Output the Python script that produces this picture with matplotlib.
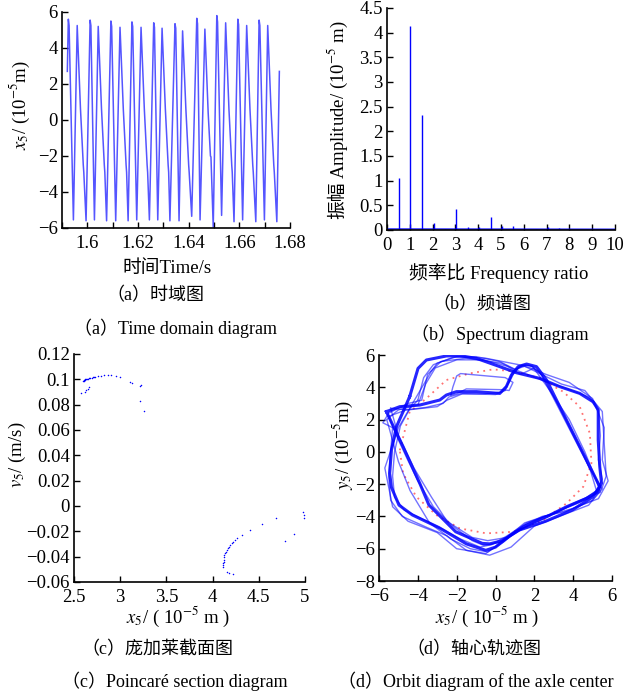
import matplotlib
matplotlib.use("Agg")
import matplotlib.pyplot as plt
from matplotlib.ticker import FuncFormatter

plt.rcParams['font.family'] = ['Liberation Serif', 'Noto Sans CJK SC']
plt.rcParams['mathtext.fontset'] = 'stix'
plt.rcParams['font.size'] = 13.5
plt.rcParams['xtick.direction'] = 'in'
plt.rcParams['ytick.direction'] = 'in'
plt.rcParams['axes.linewidth'] = 1.2
plt.rcParams['lines.solid_joinstyle'] = 'round'

# (a) time domain, vertices
time_s = [1.5921, 1.5925, 1.5928, 1.5945, 1.5960, 1.5973, 1.5984, 1.5986, 1.5995,
          1.6011, 1.6014, 1.6028, 1.6043, 1.6056, 1.6067, 1.6069, 1.6076,
          1.6093, 1.6096, 1.6112, 1.6129, 1.6142, 1.6153, 1.6155, 1.6161,
          1.6176, 1.6179, 1.6195, 1.6212, 1.6225, 1.6236, 1.6238, 1.6245,
          1.6262, 1.6265, 1.6278, 1.6295, 1.6308, 1.6319, 1.6321, 1.6326,
          1.6346, 1.6349, 1.6362, 1.6376, 1.6389, 1.6400, 1.6402, 1.6412,
          1.6432, 1.6435, 1.6445, 1.6464, 1.6477, 1.6486, 1.6488, 1.6497,
          1.6511, 1.6514, 1.6530, 1.6546, 1.6559, 1.6570, 1.6572, 1.6579,
          1.6594, 1.6597, 1.6613, 1.6629, 1.6642, 1.6653, 1.6655, 1.6665,
          1.6678, 1.6681, 1.6699, 1.6712, 1.6725, 1.6736, 1.6738, 1.6748,
          1.6758]
x5_time = [2.7, 5.6, 5.25, -5.55, 5.25, 0.6, -2.5, -2.9, -5.6,
           5.55, 5.25, -5.55, 5.2, 0.6, -2.5, -2.9, -5.6,
           5.5, 5.2, -5.6, 5.15, 0.6, -2.5, -2.9, -5.6,
           5.45, 5.2, -5.55, 5.15, 0.6, -2.5, -2.9, -5.55,
           5.4, 5.15, -5.55, 5.1, 0.6, -2.5, -2.9, -5.6,
           5.35, 5.1, -5.6, 4.95, 0.6, -2.5, -2.9, -5.35,
           5.65, 5.35, -5.55, 5.05, 0.4, -2.0, -2.05, -5.95,
           5.8, 5.45, -5.3, 5.4, 0.6, -2.5, -2.9, -5.65,
           5.6, 5.3, -5.55, 5.25, 0.6, -2.5, -2.9, -5.65,
           5.55, 5.25, -5.55, 5.25, 0.6, -2.5, -2.9, -5.65,
           2.7]

# (b) spectrum
freq_ratio = [0.52, 1.02, 1.54, 2.04, 2.54, 3.04, 3.54, 4.04, 4.54, 5.05,
              5.54, 6.04, 6.54, 7.04, 7.54, 8.03, 9.02]
amplitude = [1.06, 4.13, 2.33, 0.15, 0.03, 0.43, 0.07, 0.07, 0.27, 0.09,
             0.08, 0.03, 0.03, 0.07, 0.05, 0.03, 0.02]
base_freq = [0, 10]
base_amp = [0.02, 0.015]

# (c) Poincare section
pc_x_up = [2.576, 2.60, 2.605, 2.61, 2.615, 2.623, 2.63, 2.64, 2.649, 2.66, 2.674,
           2.69, 2.703, 2.72, 2.732, 2.761, 2.793, 2.830, 2.866, 2.902, 2.957,
           2.993, 3.101, 3.130, 3.210, 3.228, 3.214, 3.254, 2.630, 2.649, 2.659, 2.62]
pc_v_up = [0.0890, 0.0990, 0.0985, 0.0995, 0.0992, 0.1000, 0.1002, 0.1004, 0.1005,
           0.1008, 0.1011, 0.1014, 0.1016, 0.1019, 0.1021, 0.1026, 0.1029, 0.1032,
           0.1032, 0.1032, 0.1026, 0.1021, 0.0982, 0.0969, 0.0947, 0.0953, 0.0832,
           0.0753, 0.0916, 0.0921, 0.0937, 0.0903]
pc_x_lo = [4.116, 4.116, 4.117, 4.118, 4.12, 4.123, 4.127, 4.134, 4.142, 4.152,
           4.165, 4.178, 4.19, 4.207, 4.225, 4.243, 4.261, 4.315, 4.406, 4.533,
           4.685, 4.783, 4.884, 4.978, 4.986, 4.986, 4.152, 4.178, 4.225]
pc_v_lo = [-0.0478, -0.0465, -0.0452, -0.0439, -0.0425, -0.0400, -0.0385, -0.0373,
           -0.036, -0.0347, -0.0333, -0.0320, -0.0307, -0.0294, -0.0281, -0.0268,
           -0.0255, -0.0229, -0.0189, -0.0142, -0.0097, -0.0273, -0.0223, -0.0050,
           -0.0070, -0.0097, -0.0518, -0.0526, -0.0539]

# (d) orbit of the axle centre, several traced loops
loop1_x = [-4.42, -3.99, -3.56, -2.53, -1.84, -0.98, 0.22, 1.08, 2.28, 3.31, 4.34, 5.03,
           5.29, 5.29, 5.37, 5.46, 5.24, 4.69, 3.66, 2.63, 1.59, 0.74, 0.0, -0.5, -1.5,
           -2.9, -4.28, -4.97, -5.36, -5.45, -5.36, -5.10, -4.42]
loop1_y = [3.42, 5.17, 5.69, 5.94, 5.96, 5.79, 5.28, 4.90, 4.55, 4.04, 3.62, 3.10,
           2.60, 0.73, -0.92, -1.95, -2.47, -2.88, -3.40, -4.02, -4.54, -5.2, -5.9,
           -6.1, -5.7, -4.7, -3.91, -3.3, -2.2, -1.33, 0.11, 1.56, 3.42]
loop2_x = [-5.62, -4.93, -3.90, -2.87, -2.53, -2.01, -0.98, 0.22, 0.56, 0.82, 1.17,
           1.60, 2.11, 2.63, 3.31, 4.17, 5.03, 5.37, 5.0, 3.96, 2.58, 1.21, 0.35,
           -0.3, -0.68, -2.05, -3.43, -3.90, -4.76, -5.62]
loop2_y = [2.49, 2.80, 2.90, 3.21, 3.52, 3.73, 3.73, 3.62, 4.04, 4.76, 5.28, 5.44,
           5.28, 4.45, 2.80, 0.73, -1.33, -2.16, -2.8, -3.6, -4.3, -4.85, -5.5,
           -5.7, -5.67, -4.95, -3.29, -1.95, 0.32, 2.49]
loop3_x = [-5.3, -5.8, -5.5, -4.5, -3.8, -3.5, -2.8, -1.5, 0.3, 1.0, 1.5, 2.2, 3.4,
           4.6, 5.5, 5.6, 5.7, 5.5, 4.8, 3.5, 2.0, 0.8, -0.3, -1.5, -2.5, -3.5,
           -4.8, -5.4, -5.5, -5.3]
loop3_y = [1.5, 1.8, 2.4, 3.0, 3.2, 4.8, 5.6, 5.8, 5.5, 5.1, 5.3, 4.9, 4.2, 3.8,
           2.5, 0.5, -1.5, -2.2, -3.3, -3.9, -4.6, -5.9, -6.4, -6.1, -5.2, -4.7,
           -4.0, -3.0, -1.5, 1.5]
loop4_x = [-5.4, -4.5, -3.0, -2.5, -1.7, 0.0, 0.5, 0.9, 1.4, 1.9, 2.8, 3.8, 4.6,
           5.2, 5.4, 4.2, 3.0, 1.5, 0.6, -0.4, -1.2, -2.5, -3.3, -4.2, -5.0, -5.4]
loop4_y = [2.7, 2.6, 2.8, 3.2, 3.6, 3.55, 3.8, 5.0, 5.4, 5.3, 3.8, 2.0, 0.0, -1.8,
           -2.5, -3.2, -3.8, -4.4, -5.3, -5.5, -5.3, -4.3, -2.8, -1.0, 1.0, 2.7]
loop5_x = [-3.3, -3.0, -2.0, -0.5, 1.2, 1.8, 2.6, 3.8, 5.0, 5.6, 5.5, 5.8, 5.3, 4.0,
           2.5, 1.0, -0.5, -2.0, -3.0, -4.5, -5.3, -5.7, -5.0, -3.3]
loop5_y = [5.0, 5.5, 5.9, 5.8, 5.4, 5.2, 4.8, 4.3, 3.3, 1.5, -0.5, -1.8, -2.9, -3.5,
           -4.0, -5.0, -6.3, -6.0, -5.0, -4.3, -3.4, -1.0, 1.5, 5.0]
loop6_x = [-2.3, -2.2, -2.0, -1.8, 0.5, 0.9, 0.7, 0.4, -1.5, -2.0, -2.3]
loop6_y = [3.5, 4.0, 4.7, 4.85, 4.6, 4.3, 3.8, 3.85, 3.9, 3.6, 3.5]
loop7_x = [-5.5, -4.6, -3.6, -2.7, -2.4, -1.8, -0.5, 0.3, 0.7, 1.0, 1.4, 1.8, 2.3,
           2.9, 3.6, 4.4, 4.9, 5.2, 4.6, 3.4, 2.2, 1.0, 0.2, -0.6, -1.2, -2.2, -3.2,
           -4.0, -4.6, -5.1, -5.5]
loop7_y = [2.2, 2.6, 2.75, 3.0, 3.4, 3.6, 3.6, 3.7, 4.3, 5.0, 5.35, 5.35, 4.9,
           3.6, 2.1, 0.2, -1.2, -2.4, -2.9, -3.6, -4.3, -5.0, -5.6, -5.8, -5.5,
           -4.6, -3.4, -1.8, -0.3, 1.0, 2.2]
loop8_x = [-4.0, -3.7, -3.2, -2.2, -1.0, 0.2, 1.2, 2.5, 3.7, 4.8, 5.3, 5.4, 5.3,
           5.5, 5.1, 4.0, 2.8, 1.6, 0.6, -0.2, -0.8, -1.8, -2.7, -3.7, -4.7, -5.2,
           -5.3, -5.2, -4.9, -4.4, -4.0]
loop8_y = [3.2, 4.6, 5.4, 5.85, 5.9, 5.6, 5.0, 4.4, 3.9, 3.4, 2.6, 1.0, -0.5,
           -1.7, -2.6, -3.2, -3.9, -4.4, -5.2, -5.75, -5.9, -5.4, -4.8, -4.2, -3.6,
           -2.8, -1.5, 0.0, 1.6, 2.7, 3.2]
loop9_x = [-5.6, -5.0, -4.0, -3.6, -3.1, -2.0, -0.6, 0.6, 1.3, 2.0, 2.4, 3.0, 3.9,
           4.8, 5.5, 5.0, 3.6, 2.4, 1.4, 0.4, -0.4, -1.3, -2.3, -3.4, -4.4, -5.0, -5.6]
loop9_y = [2.0, 2.6, 2.9, 4.2, 5.2, 5.7, 5.7, 5.3, 4.8, 5.2, 4.7, 3.3, 1.2, -0.9,
           -2.3, -3.0, -3.7, -4.0, -4.6, -5.6, -6.2, -6.0, -5.4, -4.4, -2.4, -0.6, 2.0]
ref_x = [-4.93, -4.42, -3.56, -2.53, -1.33, -0.12, 1.08, 2.28, 3.48, 4.34, 4.86,
         4.94, 4.52, 3.66, 2.45, 0.91, -0.47, -1.84, -3.04, -4.08, -4.76, -4.93]
ref_y = [0.10, 2.49, 3.31, 4.45, 4.86, 5.11, 4.97, 4.55, 3.73, 2.80, 1.14, -0.71,
         -2.16, -3.19, -4.23, -4.95, -5.05, -4.74, -3.92, -2.78, -1.33, 0.10]

W, H = 624, 697
fig = plt.figure(figsize=(W / 100, H / 100), dpi=100)


def box(l, t, r, b):
    return [l / W, 1 - b / H, (r - l) / W, (b - t) / H]


def style(ax):
    ax.spines['top'].set_visible(False)
    ax.spines['right'].set_visible(False)
    ax.tick_params(length=4, width=1, pad=3)
    ax.tick_params(axis='x', pad=5)
    fmt = FuncFormatter(lambda v, p: f"{v:g}".replace('-', '\u2212'))
    ax.xaxis.set_major_formatter(fmt)
    ax.yaxis.set_major_formatter(fmt)


blue = '#2a2aff'

# (a)
ax = fig.add_axes(box(62, 12, 290, 228))
ax.plot(time_s, x5_time, color=blue, lw=1.1, alpha=0.8)
ax.set_xlim(1.59, 1.68)
ax.set_ylim(-6, 6)
ax.set_xticks([1.6, 1.62, 1.64, 1.66, 1.68])
ax.set_yticks([-6, -4, -2, 0, 2, 4, 6])
ax.set_xticks([1.59 + 0.01 * i for i in range(10)], minor=True)
ax.tick_params(which='minor', length=4, width=1)
style(ax)

# (b)
ax = fig.add_axes(box(387, 8, 615, 230))
ax.plot(base_freq, base_amp, color='blue', lw=1.0)
ax.vlines(freq_ratio, 0, amplitude, color='blue', lw=1.0)
ax.set_xlim(0, 10)
ax.set_ylim(0, 4.5)
ax.set_xticks(range(11))
ax.set_yticks([0, 0.5, 1, 1.5, 2, 2.5, 3, 3.5, 4, 4.5])
style(ax)

# (c)
ax = fig.add_axes(box(74, 354, 305, 582))
ax.scatter(pc_x_up, pc_v_up, s=1.2, color='blue', linewidths=0)
ax.scatter(pc_x_lo, pc_v_lo, s=1.2, color='blue', linewidths=0)
ax.set_xlim(2.5, 5)
ax.set_ylim(-0.06, 0.12)
ax.set_xticks([2.5, 3, 3.5, 4, 4.5, 5])
ax.set_yticks([-0.06, -0.04, -0.02, 0, 0.02, 0.04, 0.06, 0.08, 0.1, 0.12])
style(ax)

# (d)
ax = fig.add_axes(box(379, 355, 612, 581))
ax.plot(ref_x, ref_y, color='#ff7070', lw=1.3, ls=(0, (1, 2.5)))
thin = [(loop3_x, loop3_y), (loop4_x, loop4_y), (loop5_x, loop5_y),
        (loop6_x, loop6_y), (loop7_x, loop7_y), (loop8_x, loop8_y), (loop9_x, loop9_y)]
for lx, ly in thin:
    ax.plot(lx, ly, color='blue', lw=1.0, alpha=0.55)
for lx, ly in [(loop1_x, loop1_y), (loop2_x, loop2_y)]:
    ax.plot(lx, ly, color='blue', lw=2.2, alpha=0.85)
ax.set_xlim(-6, 6)
ax.set_ylim(-8, 6)
ax.set_xticks([-6, -4, -2, 0, 2, 4, 6])
ax.set_yticks([-8, -6, -4, -2, 0, 2, 4, 6])
style(ax)


def t(x, y, s, **kw):
    fig.text(x / W, 1 - y / H, s, ha='center', va='center', **kw)


fs = 13.5
cs = 13
t(20, 105, r'$x_5$/ (10$^{-5}$m)', rotation=90, fontsize=fs)
t(167, 268, '时间Time/s', fontsize=fs)
t(155, 296, '（a）时域图', fontsize=cs)
t(175, 328, '（a）Time domain diagram', fontsize=cs)

t(338, 200, '振幅', rotation=90, fontsize=fs)
t(338, 100, r'Amplitude/ (10$^{-5}$ m)', rotation=90, fontsize=fs)
t(499, 273, '频率比 Frequency ratio', fontsize=fs)
t(482, 305, '（b）频谱图', fontsize=cs)
t(500, 334, '（b）Spectrum diagram', fontsize=cs)

t(17, 455, r'$v_5$/ (m/s)', rotation=90, fontsize=fs)
t(178, 617, r'$x_5$/ ( 10$^{-5}$ m )', fontsize=fs)
t(157, 650, '（c）庞加莱截面图', fontsize=cs)
t(175, 681, '（c）Poincaré section diagram', fontsize=cs)

t(343, 445, r'$y_5$/ (10$^{-5}$m)', rotation=90, fontsize=fs)
t(487, 617, r'$x_5$/ ( 10$^{-5}$ m )', fontsize=fs)
t(474, 650, '（d）轴心轨迹图', fontsize=cs)
t(476, 681, '（d）Orbit diagram of the axle center', fontsize=cs)

fig.savefig('out.png', dpi=100)
